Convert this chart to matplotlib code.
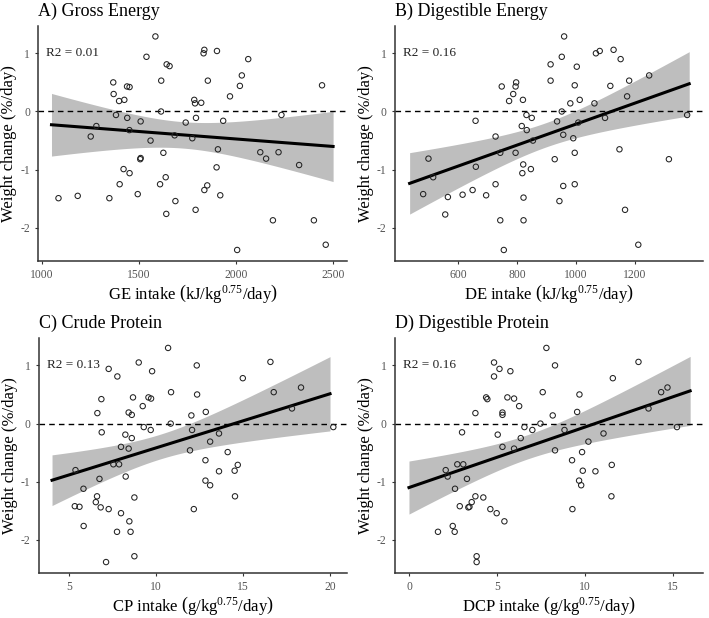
import numpy as np
import matplotlib
matplotlib.use("Agg")
import matplotlib.pyplot as plt

plt.rcParams['font.family'] = ['Liberation Serif', 'DejaVu Serif']
plt.rcParams['mathtext.fontset'] = 'custom'
plt.rcParams['mathtext.rm'] = 'Liberation Serif'
plt.rcParams['mathtext.it'] = 'Liberation Serif:italic'

# A) Gross Energy
ge_x = [1086, 1185, 1252, 1281, 1348, 1368, 1370, 1382, 1398, 1401, 1421, 1425, 1439, 1440,
        1452, 1451, 1452, 1494, 1509, 1507, 1509, 1539, 1560, 1585, 1609, 1615, 1614, 1626,
        1638, 1641, 1643, 1658, 1684, 1688, 1741, 1775, 1785, 1789, 1792, 1794, 1821, 1833,
        1837, 1837, 1852, 1855, 1900, 1902, 1907, 1919, 1934, 1969, 2006, 2020, 2030, 2063,
        2125, 2155, 2190, 2219, 2234, 2325, 2401, 2443, 2462]
ge_y = [-1.49, -1.45, -0.43, -0.25, -1.49, 0.50, 0.30, -0.06, 0.18, -1.25, -0.99, 0.20, 0.43, -0.11,
        0.42, -0.32, -1.06, -1.42, -0.17, -0.82, -0.80, 0.94, -0.50, 1.29, -1.25, 0.53, 0.00, -0.71,
        -1.13, -1.76, 0.81, 0.78, -0.41, -1.54, -0.19, -0.46, 0.20, 0.14, -1.69, -0.11, 0.15, 1.00,
        1.06, -1.35, -1.27, 0.53, -0.96, 1.04, -0.65, -1.44, -0.16, 0.26, -2.38, 0.44, 0.62, 0.90,
        -0.70, -0.81, -1.87, -0.70, -0.06, -0.92, -1.87, 0.45, -2.29]

# B) Digestible Energy
de_x = [481, 499, 515, 556, 565, 615, 649, 659, 660, 695, 727, 727, 743, 743, 748, 755, 773,
        787, 795, 797, 795, 816, 820, 818, 821, 822, 822, 832, 833, 847, 850, 854, 914, 914,
        928, 936, 944, 952, 952, 957, 957, 960, 981, 991, 996, 996, 996, 1003, 1008, 1013,
        1063, 1068, 1081, 1099, 1117, 1128, 1148, 1152, 1167, 1174, 1181, 1212, 1249, 1316, 1378]
de_y = [-1.42, -0.81, -1.13, -1.77, -1.47, -1.43, -1.35, -0.16, -0.95, -1.44, -0.43, -1.25, -0.71,
        -1.87, 0.43, -2.38, 0.18, 0.30, 0.43, 0.50, -0.71, -0.25, 0.20, -1.06, -0.91, -1.48, -1.87,
        -0.06, -0.32, -0.99, -0.11, -0.50, 0.81, 0.53, -0.82, -0.17, -1.54, 0.94, 0.00, -0.40, -1.28,
        1.29, 0.14, -0.46, 0.45, -0.71, -1.25, 0.77, -0.19, 0.20, 0.14, 1.00, 1.04, -0.11, 0.44,
        1.06, -0.65, 0.90, -1.69, 0.26, 0.53, -2.29, 0.62, -0.82, -0.06]

# C) Crude Protein
cp_x = [5.35, 5.31, 5.58, 5.81, 5.82, 6.61, 6.59, 6.52, 6.73, 6.80, 6.84, 6.86, 7.11, 7.26, 7.26,
        7.53, 7.74, 7.76, 7.86, 7.97, 7.97, 8.22, 8.24, 8.41, 8.41, 8.45, 8.52, 8.59, 8.59, 8.66,
        8.74, 8.74, 8.99, 9.22, 9.28, 9.55, 9.70, 9.68, 9.76, 10.68, 10.85, 10.83, 11.94, 12.02,
        12.06, 12.16, 12.33, 12.35, 12.83, 12.85, 12.83, 13.10, 13.10, 13.61, 13.61, 14.11, 14.51,
        14.53, 14.69, 14.98, 16.57, 16.76, 17.81, 18.33, 20.19]
cp_y = [-0.80, -1.42, -1.43, -1.12, -1.76, 0.18, -1.25, -1.35, -0.95, -1.44, 0.42, -0.15, -2.38,
        0.94, -1.47, -0.70, -1.86, 0.81, -0.70, -0.40, -1.54, -0.19, -0.91, 0.19, -0.43, -1.68,
        -1.86, 0.15, -0.25, 0.45, -1.27, -2.28, 1.05, 0.30, -0.06, 0.45, 0.43, -0.11, 0.90, 1.30,
        0.54, 0.00, -0.46, 0.14, -0.11, -1.47, 1.00, 0.50, -0.63, 0.20, -0.98, -0.31, -1.06, -0.17,
        -0.82, -0.49, -0.81, -1.25, -0.71, 0.78, 1.06, 0.54, 0.26, 0.62, -0.06]

# D) Digestible Protein
dcp_x = [1.65, 2.09, 2.20, 2.49, 2.60, 2.62, 2.75, 2.89, 3.02, 3.09, 3.30, 3.38, 3.44, 3.57, 3.78,
         3.78, 3.85, 3.85, 4.23, 4.39, 4.46, 4.63, 4.84, 4.84, 4.99, 5.05, 5.15, 5.32, 5.32, 5.32,
         5.43, 5.60, 5.77, 5.98, 5.98, 6.27, 6.36, 6.57, 7.02, 7.48, 7.61, 7.82, 8.18, 8.31, 8.31,
         8.85, 9.28, 9.30, 9.57, 9.68, 9.70, 9.80, 9.85, 9.89, 10.21, 10.61, 11.07, 11.52, 11.54,
         11.60, 13.06, 13.63, 14.35, 14.71, 15.25]
dcp_y = [-1.86, -0.80, -0.91, -1.76, -1.86, -1.12, -0.70, -1.42, -0.15, -0.70, -0.95, -1.44, -1.43,
         -1.35, 0.18, -1.25, -2.28, -2.38, -1.27, 0.45, 0.42, -1.47, 1.05, 0.81, -1.54, -0.19, 0.94,
         0.19, 0.15, -0.40, -1.68, 0.45, 0.90, 0.43, -0.43, 0.30, -0.25, -0.06, -0.11, 0.00, 0.54,
         1.30, 0.14, 1.00, -0.46, -0.11, -0.63, -1.47, 0.20, -0.98, 0.50, -1.06, -0.49, -0.81, -0.31,
         -0.82, -0.17, -1.25, -0.71, 0.78, 1.06, 0.26, 0.54, 0.62, -0.06]

panels = [
    ("A) Gross Energy", ge_x, ge_y, (1050, 2500), "R2 = 0.01",
     r"GE intake $\left(\mathrm{kJ/kg^{0.75}/day}\right)$", [1000, 1500, 2000, 2500], (982, 2570)),
    ("B) Digestible Energy", de_x, de_y, (435, 1385), "R2 = 0.16",
     r"DE intake $\left(\mathrm{kJ/kg^{0.75}/day}\right)$", [600, 800, 1000, 1200], (385, 1433)),
    ("C) Crude Protein", cp_x, cp_y, (4, 20), "R2 = 0.13",
     r"CP intake $\left(\mathrm{g/kg^{0.75}/day}\right)$", [5, 10, 15, 20], (3.25, 20.96)),
    ("D) Digestible Protein", dcp_x, dcp_y, (0, 16), "R2 = 0.16",
     r"DCP intake $\left(\mathrm{g/kg^{0.75}/day}\right)$", [0, 5, 10, 15], (-0.8, 16.75)),
]

fig = plt.figure(figsize=(7.09, 6.18), dpi=100)
positions = [[0.054, 0.578, 0.435, 0.380], [0.557, 0.578, 0.435, 0.380],
             [0.055, 0.073, 0.434, 0.380], [0.557, 0.073, 0.435, 0.380]]

for pos, (title, xs, ys, fitrange, r2, xlab, xt, xl) in zip(positions, panels):
    ax = fig.add_axes(pos)
    x = np.array(xs, dtype=float)
    y = np.array(ys, dtype=float)

    # linear fit with 95% confidence band
    n = len(x)
    slope, intercept = np.polyfit(x, y, 1)
    resid = y - (slope * x + intercept)
    s = np.sqrt(np.sum(resid ** 2) / (n - 2))
    sxx = np.sum((x - x.mean()) ** 2)
    xf = np.linspace(fitrange[0], fitrange[1], 100)
    yf = slope * xf + intercept
    se = s * np.sqrt(1.0 / n + (xf - x.mean()) ** 2 / sxx)
    t = 1.999
    ax.fill_between(xf, yf - t * se, yf + t * se, color='#bebebe', lw=0, zorder=1)
    ax.plot(xf, yf, color='black', lw=2.2, zorder=3)

    ax.axhline(0, color='black', lw=1.0, ls=(0, (4, 3)), zorder=2)
    ax.scatter(x, y, s=15, facecolors='none', edgecolors='#222222', linewidths=0.75, zorder=4)

    ax.text(0.025, 1.0, r2, transform=ax.get_yaxis_transform(), fontsize=9.5,
            va='center', ha='left', color='#222222')

    ax.set_xlim(*xl)
    ax.set_ylim(-2.566, 1.47)
    ax.set_xticks(xt)
    ax.set_yticks([-2, -1, 0, 1])
    ax.set_yticklabels(['-2', '-1', '0', '1'])
    for sp in ['top', 'right']:
        ax.spines[sp].set_visible(False)
    for sp in ['left', 'bottom']:
        ax.spines[sp].set_color('#333333')
        ax.spines[sp].set_linewidth(1.1)
    ax.tick_params(colors='#333333', labelcolor='#555555', labelsize=8.4, length=2.5, width=0.8)
    ax.set_xlabel(xlab, fontsize=12, labelpad=0.5)
    ax.set_ylabel("Weight change (%/day)", fontsize=12, labelpad=2)
    ax.set_title(title, loc='left', fontsize=13, x=0.0, pad=7)

fig.savefig("out.png", dpi=100)
